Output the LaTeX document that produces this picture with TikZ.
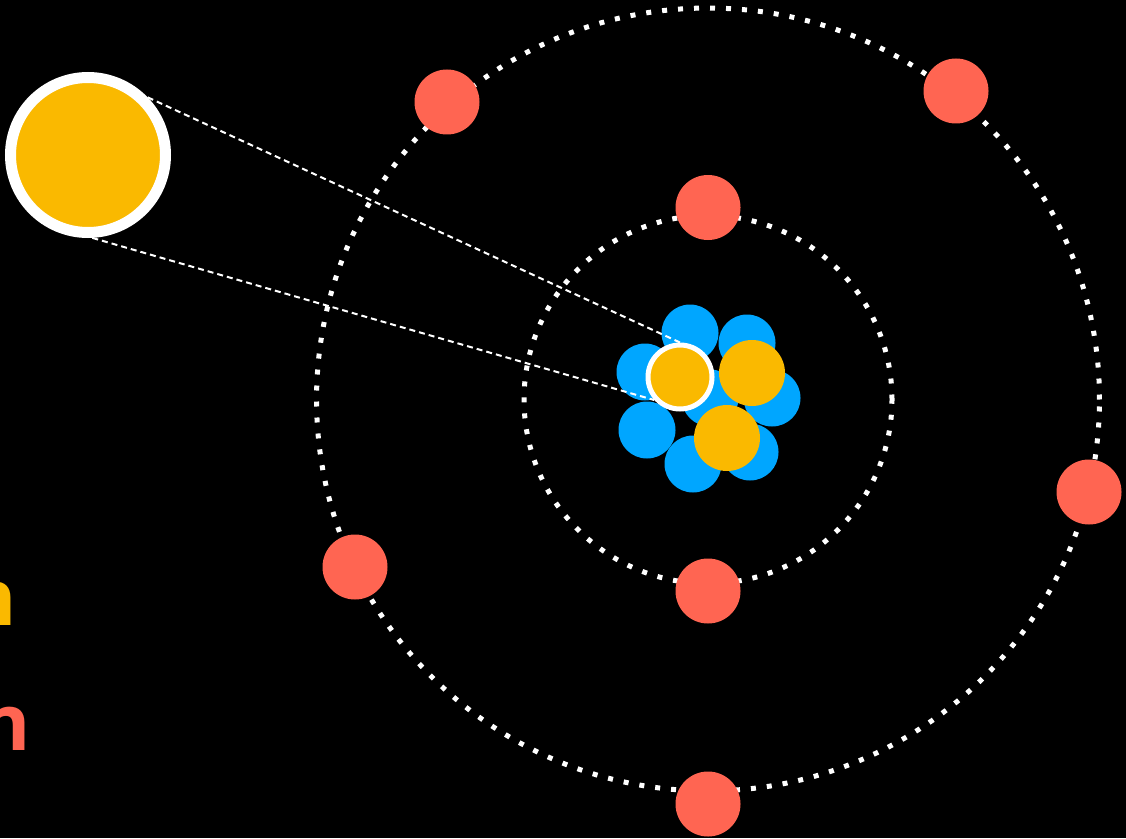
\documentclass[tikz,border=0pt]{standalone}
\usepackage{fontspec}
\newfontfamily\labelfont{Open Sans}
\definecolor{protonyellow}{HTML}{FAB900}
\definecolor{neutronblue}{HTML}{00A6FF}
\definecolor{electronred}{HTML}{FF6552}
\tikzset{
  orbit/.style={draw=white, line width=3.75pt, dash pattern=on 3.75pt off 8.25pt},
  electron/.style={circle, fill=electronred, minimum size=48.75pt, inner sep=0pt},
  neutron/.style={circle, fill=neutronblue, minimum size=42.75pt, inner sep=0pt},
  proton/.style={circle, fill=protonyellow, minimum size=49.5pt, inner sep=0pt},
  marked/.style={circle, fill=protonyellow, draw=white, line width=3.75pt, minimum size=48pt, inner sep=0pt},
  sun/.style={circle, fill=protonyellow, draw=white, line width=8.25pt, minimum size=116.25pt, inner sep=0pt},
  zoomline/.style={draw=white, line width=1.5pt, dash pattern=on 4.5pt off 3pt},
  caption/.style={anchor=base east, inner sep=0pt, font=\labelfont\bfseries\fontsize{58.5}{60}\selectfont}
}
\begin{document}
\begin{tikzpicture}[x=0.75pt, y=-0.75pt]
  % canvas
  \fill[black] (0,0) rectangle (1126,838);
  \useasboundingbox (0,0) rectangle (1126,838);

  % cut-off captions at the left edge
  \node[caption, text=protonyellow] (capP) at (17,625) {n};
  \node[caption, text=electronred] (capE) at (31,750) {n};

  % orbits
  \coordinate (centre) at (708,399.5);
  \path[orbit] (centre) circle[radius=293.6pt];
  \path[orbit] (centre) circle[radius=138pt];

  % the large atom shown on the left
  \node[sun] (sun) at (88,155) {};

  % nucleus: neutrons
  \node[neutron] (n1) at (690,333) {};
  \node[neutron] (n2) at (747,343) {};
  \node[neutron] (n3) at (645,372) {};
  \node[neutron] (n4) at (772,398) {};
  \node[neutron] (n5) at (647,430) {};
  \node[neutron] (n6) at (693,464) {};
  \node[neutron] (n7) at (750,452) {};
  \node[neutron] (n8) at (710,398) {};

  % nucleus: protons
  \node[proton] (p2) at (752,373) {};
  \node[proton] (p3) at (727,438) {};

  % zoom lines from the large atom to the marked proton
  \node[marked] (p1) at (680,377) {};
  \draw[zoomline] (sun.44) -- (p1.90);
  \draw[zoomline] (sun.-87) -- (p1.222);

  % electrons, inner shell
  \node[electron] (e1) at (708,207.5) {};
  \node[electron] (e2) at (708,591) {};

  % electrons, outer shell
  \node[electron] (e3) at (447,102) {};
  \node[electron] (e4) at (956,91) {};
  \node[electron] (e5) at (1089,492) {};
  \node[electron] (e6) at (355,567) {};
  \node[electron] (e7) at (708,804) {};
\end{tikzpicture}
\end{document}
